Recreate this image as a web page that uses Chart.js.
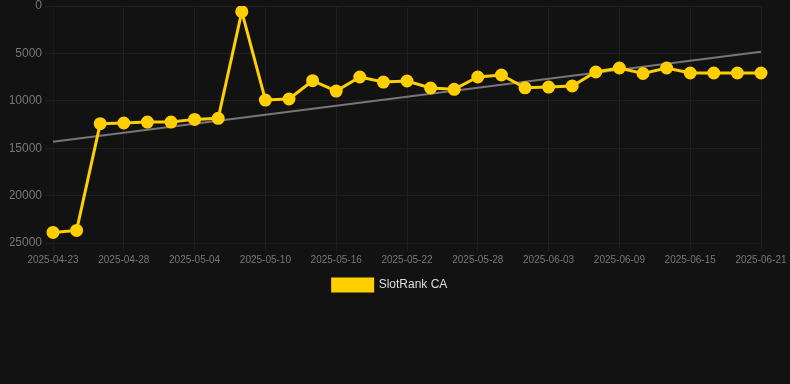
<!DOCTYPE html>
<html>
<head>
    <title>SlotRank CA</title>
    <script src="https://cdn.jsdelivr.net/npm/chart.js"></script>
    <style>
        body { margin: 0; background: #121212; }
        #wrap { width: 790px; height: 301px; }
    </style>
</head>
<body>
    <div id="wrap"><canvas id="rankChart"></canvas></div>
    <script>
        // dates on the x axis (only every third one is shown)
        const dates = [
            '2025-04-23', '2025-04-25', '2025-04-26', '2025-04-28', '2025-04-30', '2025-05-02',
            '2025-05-04', '2025-05-06', '2025-05-08', '2025-05-10', '2025-05-12', '2025-05-14',
            '2025-05-16', '2025-05-18', '2025-05-20', '2025-05-22', '2025-05-24', '2025-05-26',
            '2025-05-28', '2025-05-30', '2025-06-01', '2025-06-03', '2025-06-05', '2025-06-07',
            '2025-06-09', '2025-06-11', '2025-06-13', '2025-06-15', '2025-06-17', '2025-06-19',
            '2025-06-21'
        ];
        // rank values
        const rankCA = [
            23880, 23670, 12410, 12340, 12240, 12240, 11960, 11850, 600, 9920, 9810,
            7880, 8970, 7490, 8020, 7910, 8650, 8790, 7490, 7280, 8630, 8550,
            8440, 6960, 6540, 7120, 6540, 7070, 7070, 7070, 7070
        ];
        // trend line: only start and end values, gap spanned
        const trendStart = 14310;
        const trendEnd = 4820;
        const trend = dates.map((d, i) => i === 0 ? trendStart : (i === dates.length - 1 ? trendEnd : null));

        const ctx = document.getElementById('rankChart').getContext('2d');
        const rankChart = new Chart(ctx, {
            type: 'line',
            data: {
                labels: dates,
                datasets: [{
                    label: 'SlotRank CA',
                    data: rankCA,
                    borderColor: '#FFCF00',
                    backgroundColor: '#FFCF00',
                    borderWidth: 3,
                    pointRadius: 5,
                    pointHoverRadius: 6,
                    tension: 0
                }, {
                    label: 'trend',
                    data: trend,
                    spanGaps: true,
                    borderColor: '#777777',
                    borderWidth: 2,
                    pointRadius: 0
                }]
            },
            options: {
                responsive: true,
                maintainAspectRatio: false,
                animation: false,
                layout: { autoPadding: false, padding: { left: 10, right: 20 } },
                plugins: {
                    legend: {
                        position: 'bottom',
                        labels: {
                            color: '#dddddd',
                            boxWidth: 40,
                            boxHeight: 12,
                            font: { size: 12 },
                            filter: item => item.text !== 'trend'
                        }
                    },
                    tooltip: { enabled: false }
                },
                scales: {
                    x: {
                        grid: { color: '#1f1f1f' },
                        afterFit: scale => { scale.paddingRight = 29; },
                        ticks: {
                            color: '#777777',
                            font: { size: 10 },
                            maxRotation: 0,
                            autoSkip: false,
                            callback: function (val, i) { return i % 3 === 0 ? this.getLabelForValue(val) : null; }
                        }
                    },
                    y: {
                        reverse: true,
                        min: 0,
                        max: 25000,
                        grid: { color: '#1f1f1f' },
                        afterFit: scale => { scale.width = 43; scale.paddingTop = 6; },
                        ticks: {
                            stepSize: 5000,
                            color: '#777777',
                            font: { size: 12 },
                            callback: val => String(val)
                        }
                    }
                }
            }
        });
    </script>
</body>
</html>
